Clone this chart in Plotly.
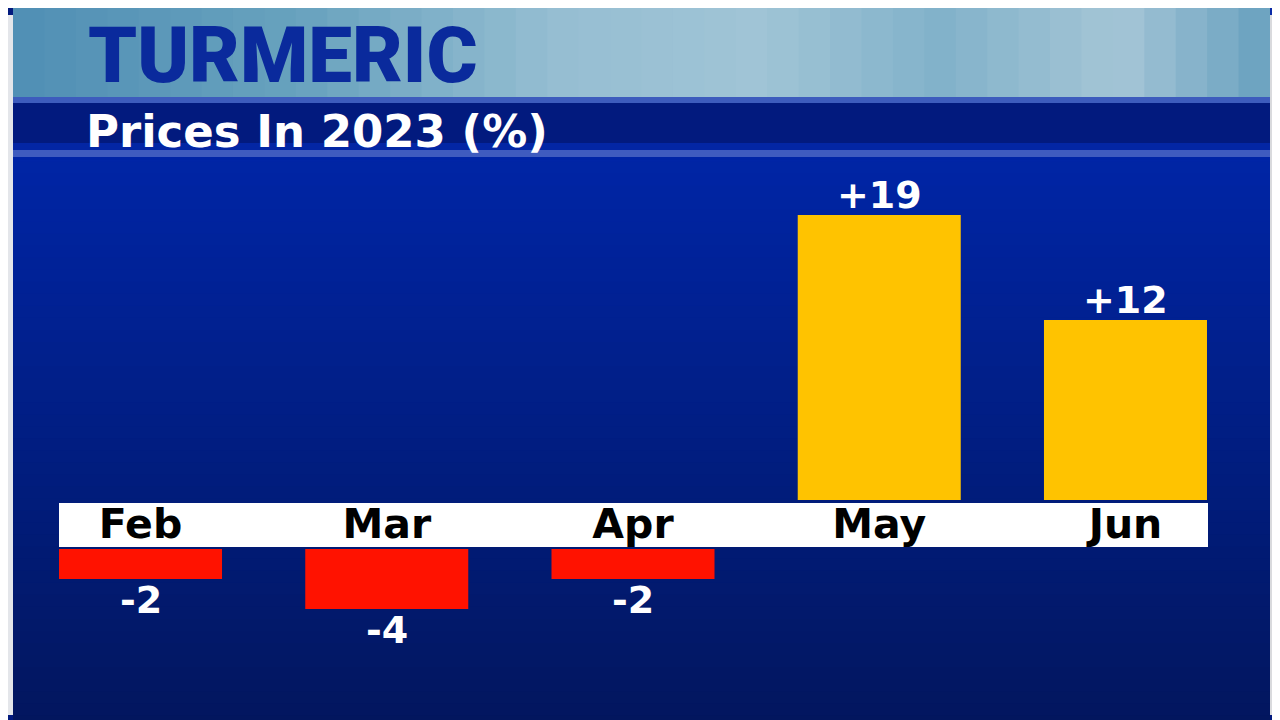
import plotly.graph_objects as go

# data
months = ["Feb", "Mar", "Apr", "May", "Jun"]
changes = [-2, -4, -2, 19, 12]

title_text = "TURMERIC"
subtitle_text = "Prices In 2023 (%)"

W, H = 1280, 720
OFF = 8  # page margin of the browser


def py(px_y):
    # pixel row on screen -> paper fraction
    return 1 - (px_y - OFF) / H


def px(px_x):
    return (px_x - OFF) / W


def mix(c1, c2, t):
    return "rgb(%d,%d,%d)" % tuple(round(a + (b - a) * t) for a, b in zip(c1, c2))


pos = [v if v > 0 else None for v in changes]
neg = [v if v < 0 else None for v in changes]

fig = go.Figure()
fig.add_trace(go.Bar(
    x=months, y=pos, yaxis="y",
    marker=dict(color="#FFC300", line=dict(width=0)),
    hoverinfo="skip",
))
fig.add_trace(go.Bar(
    x=months, y=neg, yaxis="y2",
    marker=dict(color="#FF1200", line=dict(width=0)),
    hoverinfo="skip",
))

shapes = []
# main blue panel gradient
top_c, bot_c = (0, 37, 166), (2, 22, 94)
n = 48
y0, y1 = 150, 728
for i in range(n):
    a = y0 + (y1 - y0) * i / n
    b = y0 + (y1 - y0) * (i + 1) / n
    shapes.append(dict(type="rect", xref="paper", yref="paper", x0=px(13), x1=px(1270),
                       y0=py(b), y1=py(a) + 0.001, fillcolor=mix(top_c, bot_c, i / (n - 1)),
                       line=dict(width=0), layer="below"))
# header sky banner
stops = [(13, (80, 143, 180)), (300, (104, 162, 190)), (560, (150, 190, 210)),
         (760, (160, 196, 214)), (940, (130, 178, 202)), (1120, (164, 197, 214)), (1270, (104, 160, 190))]
m = 40
for i in range(m):
    a = 13 + (1270 - 13) * i / m
    b = 13 + (1270 - 13) * (i + 1) / m
    c = (a + b) / 2
    for (xa, ca), (xb, cb) in zip(stops[:-1], stops[1:]):
        if xa <= c <= xb:
            col = mix(ca, cb, (c - xa) / (xb - xa))
            break
    shapes.append(dict(type="rect", xref="paper", yref="paper", x0=px(a), x1=px(b) + 0.001,
                       y0=py(97), y1=py(6), fillcolor=col, line=dict(width=0), layer="below"))
# bands
bands = [(0, 6, "#0b2aa6"), (97, 103, "#3d5cbd"), (103, 143, "#021a7e"),
         (143, 150, "#0326a4"), (150, 157, "#3f5cbf")]
for a, b, col in bands:
    shapes.append(dict(type="rect", xref="paper", yref="paper", x0=px(0), x1=px(1270),
                       y0=py(b), y1=py(a), fillcolor=col, line=dict(width=0), layer="below"))
# side strips
shapes.append(dict(type="rect", xref="paper", yref="paper", x0=px(2), x1=px(13),
                   y0=py(715), y1=py(15), fillcolor="#e4e6ea", line=dict(width=0), layer="below"))
shapes.append(dict(type="rect", xref="paper", yref="paper", x0=px(1270), x1=1,
                   y0=py(715), y1=py(15), fillcolor="#d9dadd", line=dict(width=0), layer="below"))
shapes.append(dict(type="rect", xref="paper", yref="paper", x0=px(1270), x1=1,
                   y0=py(15), y1=1, fillcolor="#0b2aa6", line=dict(width=0), layer="below"))
# white month band
shapes.append(dict(type="rect", xref="paper", yref="paper", x0=px(59), x1=px(1208),
                   y0=py(547), y1=py(503), fillcolor="white", line=dict(width=0), layer="below"))

annotations = [
    dict(text=title_text, x=px(86), y=1, xref="paper", yref="paper",
         xanchor="left", yanchor="top", showarrow=False,
         font=dict(family="Roboto", size=78, color="#0a2a9c", weight=900)),
    dict(text=subtitle_text, x=px(84), y=py(103), xref="paper", yref="paper",
         xanchor="left", yanchor="top", showarrow=False,
         font=dict(family="DejaVu Sans", size=45, color="white", weight="bold")),
]

# value labels above / below the bars
label_font = dict(family="DejaVu Sans", size=38, color="white", weight="bold")
for mo, v in zip(months, changes):
    if v > 0:
        annotations.append(dict(text=f"{v:+d}", x=mo, y=v, xref="x", yref="y",
                                xanchor="center", yanchor="bottom", yshift=-4,
                                showarrow=False, font=label_font))
    else:
        annotations.append(dict(text=f"{v:d}", x=mo, y=v, xref="x", yref="y2",
                                xanchor="center", yanchor="top", yshift=3,
                                showarrow=False, font=label_font))

fig.update_layout(
    width=W, height=H,
    margin=dict(l=0, r=0, t=0, b=0),
    paper_bgcolor="#021a7e", plot_bgcolor="rgba(0,0,0,0)",
    showlegend=False, bargap=0.338,
    shapes=shapes, annotations=annotations,
    xaxis=dict(domain=[px(17.4), px(1248.6)], anchor="y", type="category",
               showgrid=False, zeroline=False, showline=False, ticks="",
               tickfont=dict(family="DejaVu Sans", size=41, color="black", weight="bold"),
               ticklabelstandoff=-4, fixedrange=True),
    yaxis=dict(domain=[py(500), py(165)], range=[0, (500 - 165) / 15],
               visible=False, fixedrange=True),
    yaxis2=dict(domain=[0, py(549)], range=[-(728 - 549) / 15, 0],
                visible=False, fixedrange=True),
)

fig.write_html("out.html")
